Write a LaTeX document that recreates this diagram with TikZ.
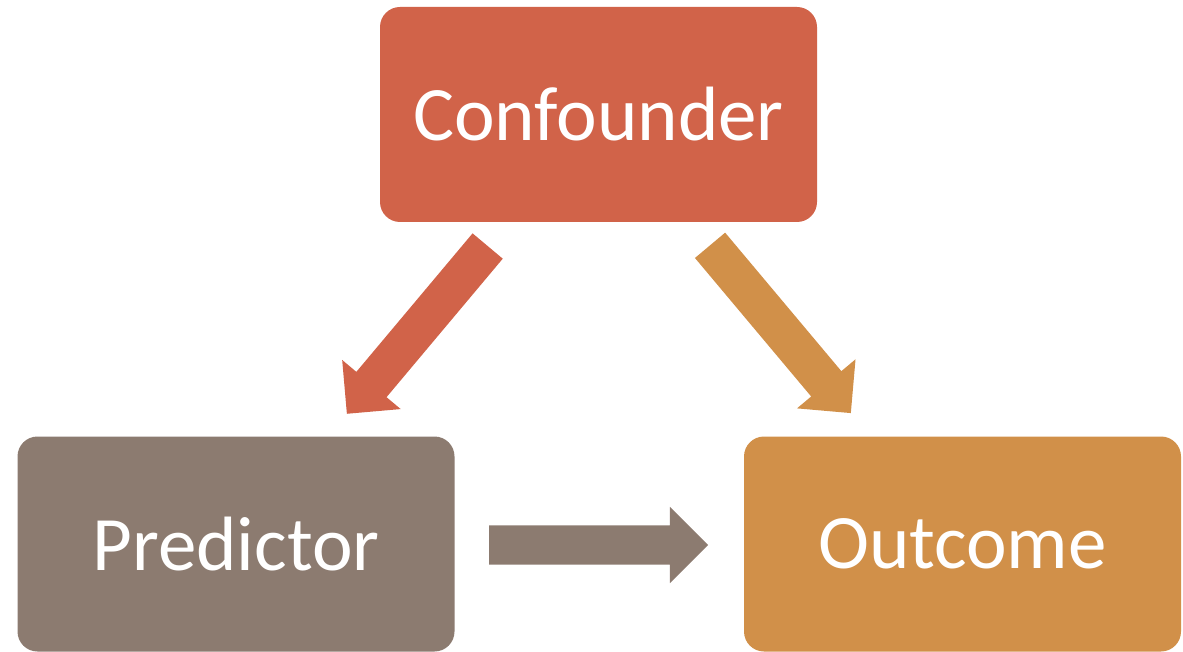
\documentclass[tikz,border=0pt]{standalone}
\usepackage{fontspec}
\setmainfont{Carlito}
\usetikzlibrary{shapes.arrows}
\definecolor{cred}{HTML}{D16349}
\definecolor{cgray}{HTML}{8C7B70}
\definecolor{corange}{HTML}{D19049}
\tikzset{
  box/.style={rounded corners=20pt, minimum width=437pt, minimum height=215pt,
    inner sep=0pt, text=white, font=\fontsize{77}{92}\selectfont},
  blockarrow/.style={single arrow, single arrow head extend=18.5pt,
    single arrow tip angle=90, minimum height=219pt,
    text height=19.5pt, text depth=19.5pt, text width=1pt,
    inner sep=0pt, draw=none, anchor=tip}
}
\begin{document}
\begin{tikzpicture}[x=1pt,y=-1pt]
\useasboundingbox (0,0) rectangle (1183,652);
\node[box, fill=cred] (conf) at (598.5,114.5) {Confounder};
\node[box, fill=cgray] (pred) at (236,544) {Predictor};
\node[box, fill=corange] (outc) at (962.5,544) {Outcome};
\node[blockarrow, fill=cred, rotate=230] (a1) at (346.7,414) {};
\node[blockarrow, fill=corange, rotate=310] (a2) at (851,413.3) {};
\node[blockarrow, fill=cgray] (a3) at (708.3,545) {};
\end{tikzpicture}
\end{document}
